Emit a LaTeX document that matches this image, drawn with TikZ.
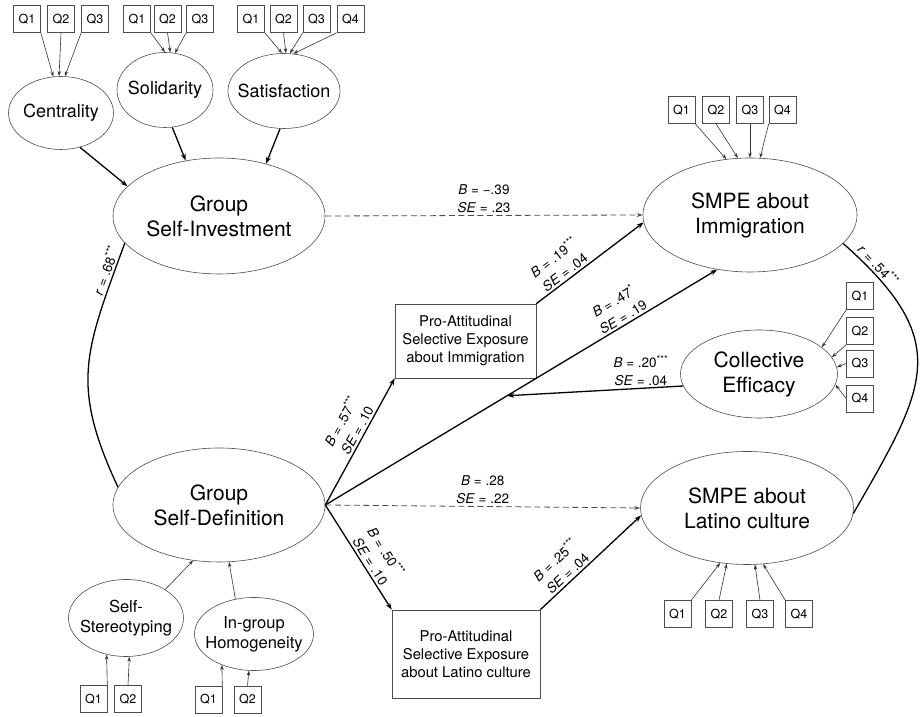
\documentclass[tikz,border=0pt]{standalone}
\usepackage{fontspec}
\setmainfont{TeX Gyre Heros}
\usetikzlibrary{shapes.geometric,arrows.meta}

\begin{document}
\begin{tikzpicture}[x=1pt,y=1pt,
  latent/.style={ellipse,draw=black!70,line width=0.6pt,inner sep=0pt,align=center,font=\fontsize{21}{25}\selectfont},
  facet/.style={ellipse,draw=black!70,line width=0.6pt,inner ysep=0pt,inner xsep=-12pt,align=center,font=\fontsize{18}{21}\selectfont},
  facetsm/.style={facet,font=\fontsize{16.5}{20}\selectfont},
  mediator/.style={rectangle,draw=black!70,line width=0.6pt,align=center,font=\fontsize{14.8}{18}\selectfont},
  qbox/.style={rectangle,draw=black!70,line width=0.6pt,minimum width=27pt,minimum height=27pt,inner sep=0pt,font=\fontsize{12.5}{14}\selectfont},
  effect/.style={-{Stealth[length=7pt,width=5pt]},line width=1.3pt},
  weak/.style={-{Stealth[length=6pt,width=4pt]},line width=0.8pt,dash pattern=on 6pt off 3.5pt,draw=black!70},
  ind/.style={-{Stealth[length=5pt,width=3.5pt]},line width=0.6pt,draw=black!80},
  est/.style={align=center,inner sep=2pt,font=\fontsize{13.5}{18}\selectfont},
  corr/.style={line width=1.3pt}]
\useasboundingbox (0,0) rectangle (922,717);

% Latent variables
\node[latent,minimum width=212pt,minimum height=116pt] (gsi) at (219,501) {Group\\Self-Investment};
\node[latent,minimum width=212pt,minimum height=114pt] (gsd) at (219,212) {Group\\Self-Definition};
\node[latent,minimum width=214pt,minimum height=114pt] (smpeI) at (750,502) {SMPE about\\Immigration};
\node[latent,minimum width=157pt,minimum height=88pt] (ce) at (759,343) {Collective\\Efficacy};
\node[latent,minimum width=213pt,minimum height=113pt] (smpeL) at (747,209) {SMPE about\\Latino culture};

% First-order factors
\node[facet,minimum width=105pt,minimum height=73pt] (cent) at (61,604) {Centrality};
\node[facet,minimum width=96pt,minimum height=75pt] (soli) at (165,627) {Solidarity};
\node[facet,minimum width=112pt,minimum height=75pt] (sati) at (284,626) {Satisfaction};
\node[facetsm,minimum width=115pt,minimum height=77pt] (ster) at (126,99) {Self-\\Stereotyping};
\node[facetsm,minimum width=119pt,minimum height=73pt] (homo) at (254,83) {In-group\\Homogeneity};

% Mediators
\node[mediator,minimum width=141pt,minimum height=74pt] (proI) at (465.5,376) {Pro-Attitudinal\\Selective Exposure\\about Immigration};
\node[mediator,minimum width=148pt,minimum height=88pt] (proL) at (466,63) {Pro-Attitudinal\\Selective Exposure\\about Latino culture};

% Items
\foreach \i/\x/\s/\a in {1/27/south east/102,2/61/south/93,3/95/south west/84}{
  \node[qbox] (cq\i) at (\x,698) {Q\i};
  \draw[ind] (cq\i.\s) -- (cent.\a);
}
\foreach \i/\x/\s/\a in {1/137/south east/90,2/167.5/south/82,3/200/south west/75}{
  \node[qbox] (lq\i) at (\x,698) {Q\i};
  \draw[ind] (lq\i.\s) -- (soli.\a);
}
\foreach \i/\x/\s/\a in {1/251/south east/93,2/283.5/south/87,3/316.5/south west/81,4/350.5/south west/76}{
  \node[qbox] (tq\i) at (\x,698) {Q\i};
  \draw[ind] (tq\i.\s) -- (sati.\a);
}
\foreach \i/\x/\s/\a in {1/681.5/south east/113,2/716/south/102,3/750/south/90,4/782.5/south west/80}{
  \node[qbox] (iq\i) at (\x,607) {Q\i};
  \draw[ind] (iq\i.\s) -- (smpeI.\a);
}
\foreach \i/\y/\s/\a in {1/421/south west/23,2/386/south west/13,3/353.5/west/5,4/318.5/west/-8}{
  \node[qbox] (eq\i) at (860,\y) {Q\i};
  \draw[ind] (eq\i.\s) -- (ce.\a);
}
\foreach \i/\x/\s/\a in {1/677.5/north east/-116,2/719/north/-110,3/760/north/-82,4/799/north west/-74}{
  \node[qbox] (aq\i) at (\x,103) {Q\i};
  \draw[ind] (aq\i.\s) -- (smpeL.\a);
}
\foreach \i/\x/\s/\a in {1/93.5/north east/-118,2/128/north/-85}{
  \node[qbox] (sq\i) at (\x,18) {Q\i};
  \draw[ind] (sq\i.\s) -- (ster.\a);
}
\foreach \i/\x/\s/\a in {1/208.5/north east/-136,2/247.5/north/-98}{
  \node[qbox] (hq\i) at (\x,17.5) {Q\i};
  \draw[ind] (hq\i.\s) -- (homo.\a);
}

% Measurement of second-order factors
\draw[effect] (cent.-61) -- (gsi.162);
\draw[effect] (soli.-79) -- (gsi.121);
\draw[effect] (sati.-96) -- (gsi.48);
\draw[ind] (ster.36) -- (gsd.-115);
\draw[ind] (homo.118) -- (gsd.-80);

% Structural paths
\draw[weak] (gsi.east) -- (smpeI.west)
  node[midway,above,est] {\textit{B} = −.39\\\textit{SE} = .23};
\draw[effect] (gsd.east) -- (proI.south west)
  node[pos=0.56,sloped,above,est] {\textit{B} = .57\textsuperscript{***}\\\textit{SE} = .10};
\draw[effect] (gsd.east) -- coordinate[pos=0.464] (mod) (smpeI.-121)
  node[pos=0.77,sloped,above,est] {\textit{B} = .47\textsuperscript{*}\\\textit{SE} = .19};
\draw[weak] (gsd.east) -- (smpeL.west)
  node[midway,above,est] {\textit{B} = .28\\\textit{SE} = .22};
\draw[effect] (gsd.east) -- (proL.north west)
  node[pos=0.58,sloped,above,est] {\textit{B} = .50\textsuperscript{***}\\\textit{SE} = .10};
\draw[effect] (proI.north east) -- (smpeI.184)
  node[pos=0.31,sloped,above,est] {\textit{B} = .19\textsuperscript{***}\\\textit{SE} = .04};
\draw[effect] (proL.north east) -- (smpeL.184)
  node[pos=0.325,sloped,above,est] {\textit{B} = .25\textsuperscript{***}\\\textit{SE} = .04};
\draw[effect] (ce.189) -- (mod)
  node[pos=0.24,above,est] {\textit{B} = .20\textsuperscript{***}\\\textit{SE} = .04};

% Correlations
\draw[corr] (gsi.196) to[out=250,in=115,looseness=1.2]
  node[pos=0.1,sloped,above,est] {\textit{r} = .68\textsuperscript{***}} (gsd.170);
\draw[corr] (smpeI.-17) to[out=-41.5,in=60,looseness=1.4]
  node[pos=0.1,sloped,above,est] {\textit{r} = .54\textsuperscript{***}} (smpeL.-3);
\end{tikzpicture}
\end{document}
